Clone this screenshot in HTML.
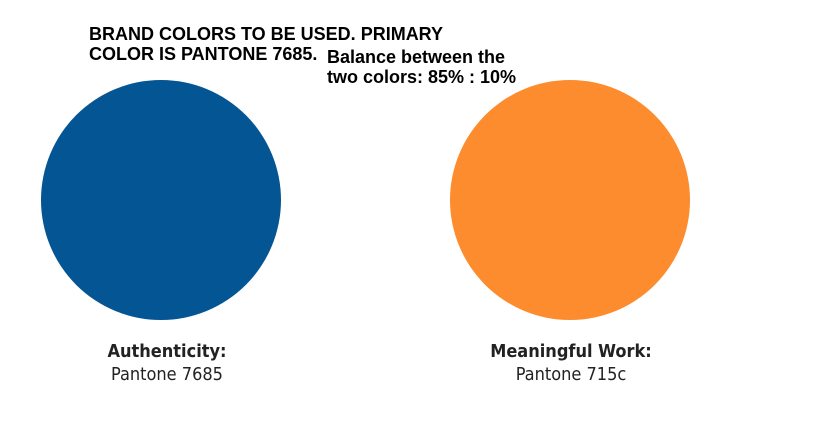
<!DOCTYPE html>
<html><head><meta charset="utf-8"><style>
body{margin:0;width:828px;height:432px;background:#fff;position:relative;overflow:hidden;font-family:"Liberation Sans",Arial,sans-serif}
.t{position:absolute;font-weight:bold;font-size:18px;color:#000;line-height:20px;white-space:nowrap}
.c{position:absolute;border-radius:50%;width:240px;height:240px;top:80px}
.l{position:absolute;width:240px;text-align:center;font-size:18px;color:#222;line-height:23px;font-family:"DejaVu Sans Condensed","Liberation Sans",sans-serif}
</style></head><body>
<div class="t" style="left:89px;top:24px">BRAND COLORS TO BE USED. PRIMARY<br>COLOR IS PANTONE 7685.</div>
<div class="t" style="left:327px;top:47px">Balance between the<br>two colors: 85% : 10%</div>
<div class="c" style="left:41px;background:#045594"></div>
<div class="c" style="left:450px;background:#fd8c2e"></div>
<div class="l" style="left:47px;top:340px"><b>Authenticity:</b><br>Pantone 7685</div>
<div class="l" style="left:451px;top:340px"><b>Meaningful Work:</b><br>Pantone 715c</div>
</body></html>
